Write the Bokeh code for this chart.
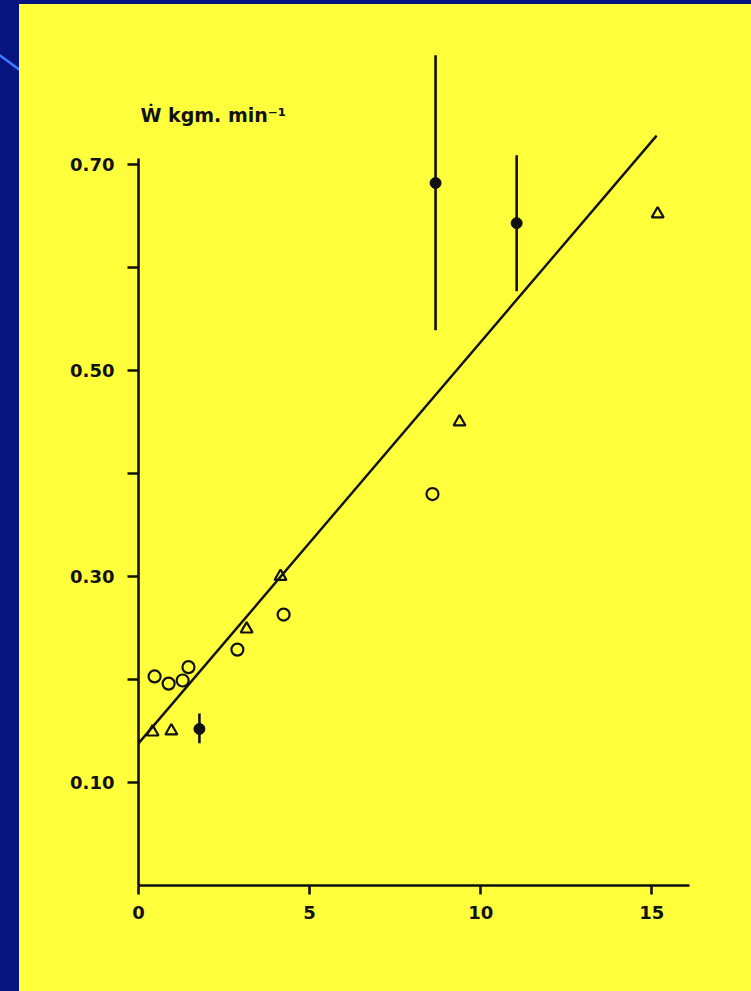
from bokeh.plotting import figure
from bokeh.models import FixedTicker, Label, Range1d, NumeralTickFormatter
from bokeh.embed import file_html
from bokeh.resources import INLINE

# ---- data ----
open_x = [0.47, 0.88, 1.29, 1.46, 2.89, 4.24, 8.59]
open_y = [0.203, 0.196, 0.199, 0.212, 0.229, 0.263, 0.380]

tri_x = [0.41, 0.96, 3.16, 4.15, 9.38, 15.17]
tri_y = [0.149, 0.150, 0.249, 0.300, 0.450, 0.652]

mean_x = [1.78, 8.68, 11.05]
mean_y = [0.152, 0.682, 0.643]
mean_lo = [0.138, 0.539, 0.577]
mean_hi = [0.167, 0.806, 0.709]

fit_x = [0.0, 15.14]
fit_y = [0.138, 0.728]

x_ticks = [0, 5, 10, 15]
x_tick_labels = ["0", "5", "10", "15"]
y_ticks = [0.1, 0.3, 0.5, 0.7]
y_tick_labels = ["0.10", "0.30", "0.50", "0.70"]
y_minor_ticks = [0.2, 0.4, 0.6]
y_axis_title = "Ẇ  kgm.  min⁻¹"

YELLOW = "#FFFF3C"
NAVY = "#061480"
INK = "#111111"
FONT = "DejaVu Sans"

p = figure(width=735, height=975, output_backend="svg", toolbar_location=None,
           x_range=Range1d(0, 16.1), y_range=Range1d(0, 0.8553),
           min_border_left=138, min_border_right=46,
           min_border_top=4, min_border_bottom=90)
p.background_fill_color = YELLOW
p.border_fill_color = None
p.outline_line_color = None
p.grid.visible = False

for ax in (p.xaxis[0], p.yaxis[0]):
    ax.axis_line_color = INK
    ax.axis_line_width = 2.6
    ax.major_tick_line_color = INK
    ax.major_tick_line_width = 2.6
    ax.major_tick_in = 0
    ax.major_label_text_font = FONT
    ax.major_label_text_font_style = "bold"
    ax.major_label_text_font_size = "18px"
    ax.major_label_text_color = INK

xa = p.xaxis[0]
xa.ticker = FixedTicker(ticks=x_ticks)
xa.major_label_overrides = dict(zip(x_ticks, x_tick_labels))
xa.major_tick_out = 9
xa.minor_tick_out = 0
xa.minor_tick_in = 0
xa.major_label_standoff = 11
xa.bounds = (0, 16.1)

ya = p.yaxis[0]
ya.ticker = FixedTicker(ticks=y_ticks, minor_ticks=y_minor_ticks)
ya.formatter = NumeralTickFormatter(format="0.00")
ya.major_label_overrides = dict(zip(y_ticks, y_tick_labels))
ya.major_tick_out = 11
ya.minor_tick_out = 11
ya.minor_tick_in = 0
ya.minor_tick_line_color = INK
ya.minor_tick_line_width = 2.6
ya.major_label_standoff = 13
ya.bounds = (0, 0.706)

# regression line
p.line(fit_x, fit_y, line_color=INK, line_width=2.4)

# error bars and means
p.segment(x0=mean_x, y0=mean_lo, x1=mean_x, y1=mean_hi, line_color=INK, line_width=2.6)
p.scatter(mean_x, mean_y, marker="circle", size=11, fill_color=INK, line_color=INK)

# open circles
p.scatter(open_x, open_y, marker="circle", size=12, fill_color=None,
          line_color=INK, line_width=2.2)

# open triangles
p.scatter(tri_x, tri_y, marker="triangle", size=12, fill_color=None,
          line_color=INK, line_width=2.2)

p.add_layout(Label(x=2, y=771, x_units="screen", y_units="screen",
                   text=y_axis_title, text_font=FONT,
                   text_font_size="19px", text_font_style="bold", text_color=INK,
                   text_baseline="alphabetic", text_align="left"))

html = file_html(p, INLINE)
css = ("<style>body{background:"
       "url(\"data:image/svg+xml;utf8,<svg xmlns='http://www.w3.org/2000/svg' width='19' height='100'>"
       "<line x1='-2' y1='54' x2='24' y2='73' stroke='%233C7CFF' stroke-width='2.5'/></svg>\") no-repeat 0 0,"
       "linear-gradient(to bottom," + NAVY + " 0," + NAVY + " 4px,transparent 4px),"
       "linear-gradient(to right," + NAVY + " 0," + NAVY + " 19px," + YELLOW + " 19px);}</style>")
html = html.replace("</head>", css + "</head>", 1)
open("out.html", "w").write(html)
